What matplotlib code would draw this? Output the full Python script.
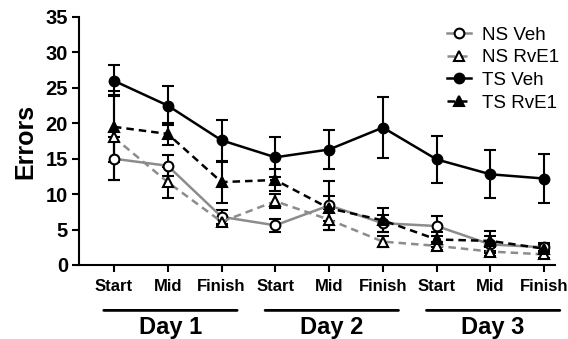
import numpy as np
import matplotlib
matplotlib.use("Agg")
import matplotlib.pyplot as plt
from matplotlib.lines import Line2D

plt.rcParams["font.family"] = ["Liberation Sans", "DejaVu Sans"]

# Data
phases = ["Start", "Mid", "Finish"] * 3
days = ["Day 1", "Day 2", "Day 3"]

ns_veh = [15.0, 14.0, 6.8, 5.6, 8.4, 5.9, 5.5, 2.9, 2.5]
ns_veh_err = [3.0, 1.5, 1.0, 0.9, 3.5, 1.2, 1.4, 1.2, 0.6]
ns_rve1 = [18.0, 11.7, 6.1, 9.0, 6.4, 3.3, 2.7, 1.9, 1.5]
ns_rve1_err = [6.0, 2.2, 0.6, 1.0, 1.5, 0.8, 0.6, 0.6, 0.5]
ts_veh = [26.0, 22.5, 17.6, 15.2, 16.3, 19.4, 14.9, 12.8, 12.2]
ts_veh_err = [2.2, 2.8, 2.9, 2.8, 2.7, 4.3, 3.3, 3.4, 3.5]
ts_rve1 = [19.5, 18.5, 11.7, 12.0, 8.0, 6.3, 3.6, 3.4, 2.3]
ts_rve1_err = [5.0, 1.5, 2.9, 1.5, 1.8, 1.7, 1.0, 1.4, 0.5]

x = np.arange(len(phases))

fig = plt.figure(figsize=(5.68, 3.39), dpi=100)
ax = fig.add_axes([79 / 568, 1 - 265 / 339, (555 - 79) / 568, (265 - 17) / 339])

grey = "#8c8c8c"
series = [
    ("NS Veh", ns_veh, ns_veh_err, grey, "-", "o", "white"),
    ("NS RvE1", ns_rve1, ns_rve1_err, grey, "--", "^", "white"),
    ("TS Veh", ts_veh, ts_veh_err, "black", "-", "o", "black"),
    ("TS RvE1", ts_rve1, ts_rve1_err, "black", "--", "^", "black"),
]

handles = []
for label, vals, errs, color, ls, marker, face in series:
    edge = "black" if color == grey else color
    style = dict(color=color, ls=ls, lw=1.8, marker=marker, ms=7,
                 mfc=face, mec=edge, mew=1.5)
    if ls == "--":
        style["dashes"] = (3, 2)
    ax.errorbar(x, vals, yerr=errs, ecolor=edge, elinewidth=1.5,
                capsize=4, capthick=1.5, **style)
    handles.append(Line2D([], [], label=label, **style))

ax.set_xlim(-0.65, 8.2)
ax.set_ylim(0, 35)
ax.set_yticks(range(0, 36, 5))
ax.set_xticks(x)
ax.set_xticklabels(phases, fontsize=12, fontweight="bold")
for t in ax.get_yticklabels():
    t.set_fontsize(14.5)
    t.set_fontweight("bold")
ax.set_ylabel("Errors", fontsize=18, fontweight="bold", labelpad=6)

for spine in ("top", "right"):
    ax.spines[spine].set_visible(False)
for spine in ("left", "bottom"):
    ax.spines[spine].set_linewidth(1.5)
ax.tick_params(width=1.5, length=5, pad=3)
ax.tick_params(axis="x", pad=5)

# Day group labels with lines above them
for i, day in enumerate(days):
    lo, hi = 3 * i - 0.19, 3 * i + 2.29
    ax.annotate("", xy=(lo, -0.183), xytext=(hi, -0.183),
                xycoords=("data", "axes fraction"),
                arrowprops=dict(arrowstyle="-", lw=2, color="black",
                                shrinkA=0, shrinkB=0))
    ax.text(3 * i + 1.05, -0.278, day, transform=ax.get_xaxis_transform(),
            ha="center", va="baseline", fontsize=17, fontweight="bold")

ax.legend(handles=handles, loc="upper right", bbox_to_anchor=(1.045, 1.03),
          frameon=False, fontsize=13.5, handlelength=1.3, handletextpad=0.6,
          labelspacing=0.3)

fig.savefig("out.png", dpi=100)
